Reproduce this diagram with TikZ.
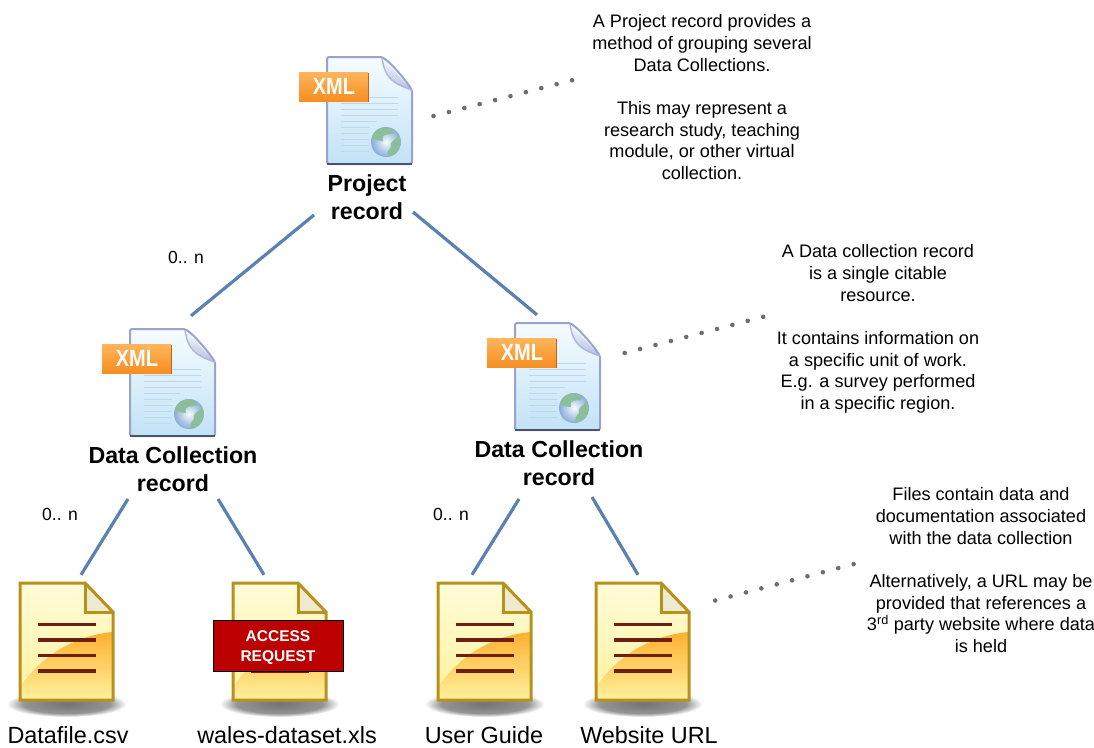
\documentclass[tikz,border=0pt]{standalone}
\usepackage{fontspec}
\setmainfont{Liberation Sans}
\definecolor{linkblue}{HTML}{5B80B2}
\definecolor{dotgrey}{HTML}{6E6E6E}
\definecolor{xmledge}{HTML}{98A3D2}
\definecolor{xmlpale}{HTML}{F6FCFF}
\definecolor{xmlblue}{HTML}{C2E2F6}
\definecolor{xmlrule}{HTML}{BAD8EE}
\definecolor{globeblue}{HTML}{86ACD8}
\definecolor{globegreen}{HTML}{8DBE9A}
\definecolor{tagtop}{HTML}{FFB55C}
\definecolor{tagbottom}{HTML}{F68E22}
\definecolor{fileedge}{HTML}{B8901C}
\definecolor{filerule}{HTML}{6E2010}
\definecolor{filepale}{HTML}{FFFCD8}
\definecolor{fileyellow}{HTML}{FFF19E}
\definecolor{fileorange}{HTML}{FDB02F}
\definecolor{filefold}{HTML}{EEEAD0}
\definecolor{accessred}{HTML}{BC0000}
\pgfdeclareradialshading{shadowfade}{\pgfpointorigin}{color(0bp)=(black!55); color(18bp)=(black!42); color(25bp)=(white); color(50bp)=(white)}
\tikzset{
  x=1pt,y=-1pt,
  linkdecorate/.style={-,line width=3.2pt,color=linkblue},
  dotdecorate/.style={-,line width=4.6pt,color=dotgrey,line cap=round,dash pattern=on 0pt off 15.9pt},
  notedecorate/.style={anchor=north,align=center,font=\fontsize{18.1}{21.7}\selectfont},
  titledecorate/.style={align=center,font=\fontsize{23.2}{27.5}\selectfont\bfseries},
  filetextdecorate/.style={font=\fontsize{23.4}{26}\selectfont},
  countdecorate/.style={font=\fontsize{17.5}{20}\selectfont},
  xmldoc/.pic={
    \shade[top color=xmlpale,bottom color=xmlblue] (0,0) -- (55,0) -- (85,33) -- (85,107) -- (0,107) -- cycle;
    \shade[top color=xmlpale,bottom color=xmledge!70] (55,1) .. controls (58,20) and (64,26) .. (85,33) -- cycle;
    \draw[xmledge,line width=2pt,line join=round,rounded corners=1.5pt] (0,0) -- (53,0) .. controls (60,1) and (78,22) .. (85,33) -- (85,107) -- (0,107) -- cycle;
    \draw[xmledge!80,line width=1.4pt] (55,1) .. controls (58,20) and (64,26) .. (85,33);
    \draw[black!50!xmledge,line width=1.2pt] (0,107) -- (85,107);
    \foreach \ruley/\rulex in {40/71,46/71,52/71,58/71,64/50,70/42,76/42,82/42,88/42,94/42}
      \draw[xmlrule,line width=1pt] (14,\ruley) -- (\rulex,\ruley);
    \shade[inner color=xmlpale,outer color=globeblue] (59,85) circle (15);
    \begin{scope}
      \clip (59,85) circle (15);
      \fill[globegreen] (50,70) .. controls (58,70) and (70,72) .. (66,77) .. controls (60,78) and (54,76) .. (56,84)
        .. controls (50,84) and (44,82) .. (44,78) -- cycle;
      \fill[globegreen] (72,78) .. controls (68,84) and (62,84) .. (64,90) .. controls (60,94) and (58,100) .. (64,100)
        .. controls (72,96) and (76,88) .. cycle;
    \end{scope}
    \fill[tagbottom!70!black] (-27,16) rectangle (42,45);
    \shade[top color=tagtop,bottom color=tagbottom] (-28,15) rectangle (41,44);
    \node (-tag) at (7,29.5) [text=white,xscale=.85,font=\fontsize{23.5}{24}\selectfont\bfseries] {XML};
    \node (-frame) at (42.5,53.5) [minimum width=85pt,minimum height=107pt,inner sep=0pt] {};
  },
  filedoc/.pic={
    \shade[shading=shadowfade] (46.5,121) ellipse (60 and 13);
    \shade[top color=filepale,bottom color=fileyellow] (0,0) -- (65,0) -- (93,29) -- (93,117) -- (0,117) -- cycle;
    \shade[top color=fileorange,bottom color=fileyellow] (0,104) .. controls (25,68) and (60,52) .. (93,49) -- (93,117) -- (0,117) -- cycle;
    \fill[filefold] (65,0) -- (93,29) -- (65,29) -- cycle;
    \draw[fileedge,line width=3pt,line join=miter] (0,0) -- (65,0) -- (93,29) -- (93,117) -- (0,117) -- cycle;
    \draw[fileedge,line width=3pt] (65,0) -- (65,29) -- (93,29);
    \foreach \ruley in {41.7,57,72.5,88}
      \draw[filerule,line width=3.5pt] (18,\ruley) -- (76,\ruley);
    \node (-frame) at (46.5,58.5) [minimum width=93pt,minimum height=117pt,inner sep=0pt] {};
  }
}
\begin{document}
\begin{tikzpicture}
\useasboundingbox (0,0) rectangle (1094,747);
%% record icons and titles
\foreach \nodename/\x/\y/\tx/\ty/\title in {
  project/327/57/367/197/Project\\record,
  collA/130/329/173/469/Data Collection\\record,
  collB/515/323/559/463/Data Collection\\record}
{
  \pic (\nodename) at (\x,\y) {xmldoc};
  \node (\nodename label) at (\tx,\ty) [titledecorate] {\title};
}
%% file icons and names
\foreach \nodename/\x/\tx/\title in {
  datafile/20/68/Datafile.csv, wales/233/287/wales-dataset.xls,
  guide/438/484/User Guide, website/596/649/Website URL}
{
  \pic (\nodename) at (\x,583) {filedoc};
  \node (\nodename label) at (\tx,735.5) [filetextdecorate] {\title};
}
\node (access) at (278,646) [draw=black,fill=accessred,minimum width=130pt,minimum height=51pt,inner sep=0pt] {};
\node (accesslabel) at ([shift={(0,1.5)}]access.center) [text=white,inner sep=0pt,align=center,
  font=\fontsize{15.5}{19.5}\selectfont\bfseries] {ACCESS\\REQUEST};
%% multiplicity labels
\node (countA) at (186,257) [countdecorate] {0.. n};
\node (countB) at (60,514) [countdecorate] {0.. n};
\node (countC) at (451,514) [countdecorate] {0.. n};
%% side notes
\node (noteA) at (702,11) [notedecorate] {A Project record provides a\\method of grouping several\\Data Collections.\\[21.7pt]
  This may represent a\\research study, teaching\\module, or other virtual\\collection.};
\node (noteB) at (878,241) [notedecorate] {A Data collection record\\is a single citable\\resource.\\[21.7pt]
  It contains information on\\a specific unit of work.\\E.g. a survey performed\\in a specific region.};
\node (noteC) at (981,484) [notedecorate] {Files contain data and\\documentation associated\\with the data collection\\[21.7pt]
  Alternatively, a URL may be\\provided that references a\\3\textsuperscript{rd} party website where data\\is held};
%% edges or lines
\foreach \startnode/\sx/\sy/\endnode/\ex/\ey in {
  projectlabel.center/-53/18/collA-frame.north/18.5/-13,
  projectlabel.center/46/15/collB-frame.north/-20.5/-8,
  collAlabel.center/-45/30/datafile-frame.north/14.5/-8,
  collAlabel.center/45/30/wales-frame.north/-15.5/-8,
  collBlabel.center/-40/36/guide-frame.north/-12.5/-8,
  collBlabel.center/33/34/website-frame.north/-4.5/-8}
{
  \draw[linkdecorate] ([shift={(\sx,\sy)}]\startnode) -- ([shift={(\ex,\ey)}]\endnode);
}
%% dotted leaders
\coordinate (leadA) at (574,79.7);
\coordinate (leadB) at (765,316.4);
\coordinate (leadC) at (855.5,563.6);
\draw[dotdecorate] ([shift={(21.3,5.5)}]project-frame.east) -- (leadA);
\draw[dotdecorate] ([shift={(24.5,-23.5)}]collB-frame.east) -- (leadB);
\draw[dotdecorate] ([shift={(26,-41)}]website-frame.east) -- (leadC);
\end{tikzpicture}
\end{document}
